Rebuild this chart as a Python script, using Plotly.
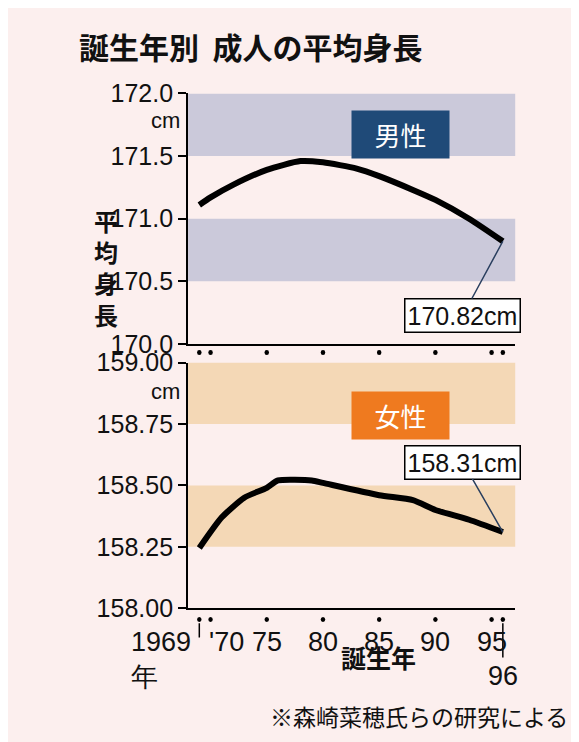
import plotly.graph_objects as go

# 誕生年と平均身長
male_years = [1969, 1970, 1972, 1975, 1978, 1980, 1983, 1985, 1988, 1990, 1993, 1996]
male_cm = [171.11, 171.17, 171.27, 171.39, 171.46, 171.45, 171.40, 171.34, 171.23, 171.15, 171.00, 170.82]
female_years = [1969, 1971, 1973, 1975, 1976, 1979, 1980, 1985, 1988, 1990, 1993, 1996]
female_cm = [158.245, 158.37, 158.45, 158.49, 158.52, 158.52, 158.51, 158.46, 158.44, 158.40, 158.36, 158.31]

male_ticks = [170.0, 170.5, 171.0, 171.5, 172.0]
female_ticks = [158.00, 158.25, 158.50, 158.75, 159.00]
male_bands = [(170.5, 171.0), (171.5, 172.0)]
female_bands = [(158.25, 158.5), (158.75, 159.0)]
dot_years = [1969, 1970, 1975, 1980, 1985, 1990, 1995, 1996]
xlabels = ["1969", "'70", "75", "80", "85", "90", "95", "96"]

JP = "Noto Sans CJK JP"
NUM = "Liberation Sans"
BG = "#fcefee"

fig = go.Figure()
fig.update_layout(width=579, height=742, margin=dict(l=0, r=0, t=0, b=0),
                  paper_bgcolor=BG, plot_bgcolor=BG, showlegend=False)

for lo, hi in male_bands:
    fig.add_shape(type="rect", xref="x domain", yref="y", x0=0, x1=1, y0=lo, y1=hi,
                  fillcolor="#cbc9da", line_width=0, layer="below")
for lo, hi in female_bands:
    fig.add_shape(type="rect", xref="x2 domain", yref="y2", x0=0, x1=1, y0=lo, y1=hi,
                  fillcolor="#f4d8b6", line_width=0, layer="below")

fig.add_trace(go.Scatter(x=male_years, y=male_cm, mode="lines", xaxis="x", yaxis="y",
                         line=dict(color="black", width=6, shape="spline", smoothing=0.6)))
fig.add_trace(go.Scatter(x=female_years, y=female_cm, mode="lines", xaxis="x2", yaxis="y2",
                         line=dict(color="black", width=6, shape="spline", smoothing=0.6)))

# 年の位置の点
for yr in dot_years:
    for yp in (0.537, 0.163):
        fig.add_shape(type="circle", xref="x2", yref="paper", x0=yr - 0.2, x1=yr + 0.2,
                      y0=yp - 0.0035, y1=yp + 0.0035, fillcolor="black", line_width=0)

ax_common = dict(range=[1968.0, 1997.1], showgrid=False, zeroline=False, showticklabels=False,
                 showline=True, linecolor="black", linewidth=2, domain=[0.311, 0.876])
ay_common = dict(showgrid=False, zeroline=False, showline=True, linecolor="black", linewidth=2,
                 ticks="outside", ticklen=8, tickwidth=2, tickcolor="black",
                 tickfont=dict(family=NUM, size=25, color="#111"))
fig.update_layout(
    xaxis=dict(anchor="y", **ax_common),
    xaxis2=dict(anchor="y2", **ax_common),
    yaxis=dict(anchor="x", range=[170.0, 172.0], domain=[0.549, 0.900], tickvals=male_ticks,
               ticktext=[f"{v:.1f}" for v in male_ticks], **ay_common),
    yaxis2=dict(anchor="x2", range=[158.0, 159.0], domain=[0.179, 0.523], tickvals=female_ticks,
                ticktext=[f"{v:.2f}" for v in female_ticks], **ay_common),
)

ann = []
ann.append(dict(text="<b>誕生年別  成人の平均身長</b>", xref="paper", yref="paper", x=0.12, y=1.0,
                xanchor="left", yanchor="top", showarrow=False, font=dict(family=JP, size=30, color="#111")))
ann.append(dict(text="cm", xref="paper", yref="paper", x=0.300, y=0.862, xanchor="right", yanchor="middle",
                showarrow=False, font=dict(family=NUM, size=22, color="#111")))
ann.append(dict(text="cm", xref="paper", yref="paper", x=0.300, y=0.482, xanchor="right", yanchor="middle",
                showarrow=False, font=dict(family=NUM, size=22, color="#111")))
ann.append(dict(text="<b>平<br>均<br>身<br>長</b>", xref="paper", yref="paper", x=0.145, y=0.75,
                showarrow=False, font=dict(family=JP, size=24, color="#111")))
ann.append(dict(text="   男性   ", xref="x domain", yref="y domain", x=0.80, y=0.935, showarrow=False,
                bgcolor="#1f4a78", borderpad=5, font=dict(family=JP, size=26, color="white")))
ann.append(dict(text="   女性   ", xref="x2 domain", yref="y2 domain", x=0.80, y=0.885, showarrow=False,
                bgcolor="#ef7a1f", borderpad=5, font=dict(family=JP, size=26, color="white")))
ann.append(dict(text=f"{male_cm[-1]:.2f}cm", x=male_years[-1], y=male_cm[-1], xref="x", yref="y",
                ax=-40, ay=74, showarrow=True, arrowhead=0, arrowwidth=1.5, bordercolor="black",
                borderwidth=1.5, bgcolor="white", borderpad=2, font=dict(family=NUM, size=25, color="#111")))
ann.append(dict(text=f"{female_cm[-1]:.2f}cm", x=female_years[-1], y=female_cm[-1], xref="x2", yref="y2",
                ax=-40, ay=-70, showarrow=True, arrowhead=0, arrowwidth=1.5, bordercolor="black",
                borderwidth=1.5, bgcolor="white", borderpad=2, font=dict(family=NUM, size=25, color="#111")))
for yr, lab in zip(dot_years, xlabels):
    if yr == 1969:
        ann.append(dict(text="1969<br>年", x=yr, y=0.156, xref="x2", yref="paper", xanchor="right",
                        yanchor="top", xshift=-6, showarrow=False, align="left",
                        font=dict(family=NUM, size=27, color="#111")))
    elif yr == 1996:
        ann.append(dict(text="96", x=yr, y=0.108, xref="x2", yref="paper", yanchor="top",
                        showarrow=False, font=dict(family=NUM, size=27, color="#111")))
    elif yr == 1970:
        ann.append(dict(text=lab, x=yr, y=0.156, xref="x2", yref="paper", yanchor="top", xanchor="left",
                        xshift=-4, showarrow=False, font=dict(family=NUM, size=27, color="#111")))
    else:
        ann.append(dict(text=lab, x=yr, y=0.156, xref="x2", yref="paper", yanchor="top",
                        showarrow=False, font=dict(family=NUM, size=27, color="#111")))
ann.append(dict(text="<b>誕生年</b>", xref="paper", yref="paper", x=0.64, y=0.083, showarrow=False,
                font=dict(family=JP, size=25, color="#111")))
ann.append(dict(text="※森崎菜穂氏らの研究による", xref="paper", yref="paper", x=0.97, y=0.002,
                xanchor="right", yanchor="bottom", showarrow=False, font=dict(family=JP, size=23, color="#111")))
fig.update_layout(annotations=ann)

# 1969 / 96 の引き出し線
fig.add_shape(type="line", xref="x2", yref="paper", x0=1969, x1=1969, y0=0.158, y1=0.138, line=dict(color="black", width=1.5))
fig.add_shape(type="line", xref="x2", yref="paper", x0=1996, x1=1996, y0=0.158, y1=0.11, line=dict(color="black", width=1.5))

fig.write_html("out.html")
